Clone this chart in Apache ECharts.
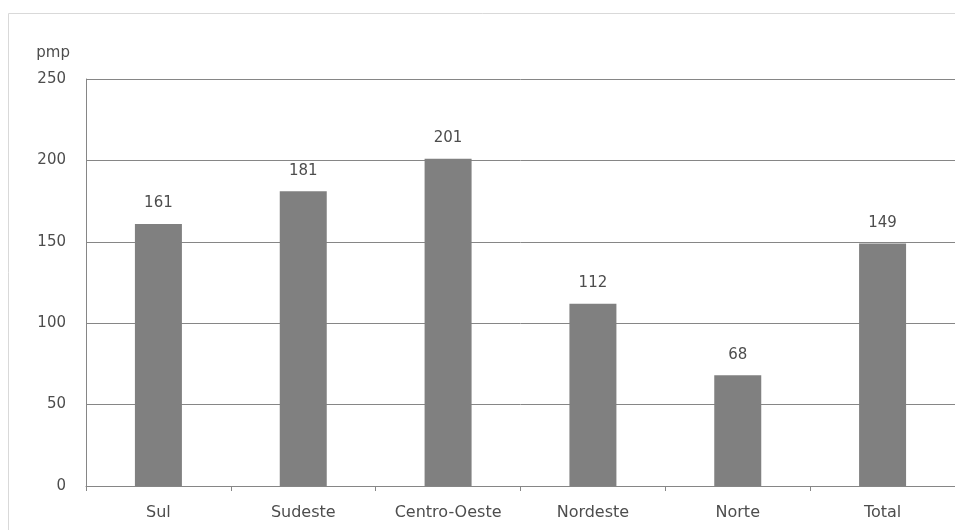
<!DOCTYPE html>
<html><head><meta charset="utf-8">
<script src="https://cdn.jsdelivr.net/npm/echarts@6/dist/echarts.min.js"></script>
<style>html,body{margin:0;padding:0;background:#fff}#c{width:955px;height:530px}</style>
</head><body><div id="c"></div>
<script>
var categories = ['Sul','Sudeste','Centro-Oeste','Nordeste','Norte','Total'];
var values = [161,181,201,112,68,149];
var yTicks = [0,50,100,150,200,250];
var chart = echarts.init(document.getElementById('c'), null, {renderer:'canvas'});
var font = "'DejaVu Sans', sans-serif";
var tc = '#4d4d4d';
chart.setOption({
  animation:false,
  graphic:[{type:'rect', shape:{x:8.5,y:13.5,width:1000,height:1000}, style:{fill:'none', stroke:'#d9d9d9', lineWidth:1}, silent:true}],
  grid:{left:86, top:79, width:876, height:407, containLabel:false},
  xAxis:{type:'category', data:categories,
    axisLine:{lineStyle:{color:'#868686', width:1}},
    axisTick:{show:true, length:5, lineStyle:{color:'#868686'}},
    axisLabel:{color:tc, fontFamily:font, fontSize:16, margin:19}},
  yAxis:{type:'value', min:yTicks[0], max:yTicks[yTicks.length-1], interval:50,
    name:'pmp', nameLocation:'end', nameGap:18,
    nameTextStyle:{color:tc, fontFamily:font, fontSize:15, align:'right', padding:[0,16,0,0]},
    axisLine:{show:true, lineStyle:{color:'#868686'}},
    axisTick:{show:false},
    splitLine:{lineStyle:{color:'#868686', width:1}},
    axisLabel:{color:tc, fontFamily:font, fontSize:15, margin:20}},
  series:[{type:'bar', data:values, barWidth:47, itemStyle:{color:'#808080'},
    label:{show:true, position:'top', distance:13, color:tc, fontFamily:font, fontSize:15}}]
});
</script></body></html>
